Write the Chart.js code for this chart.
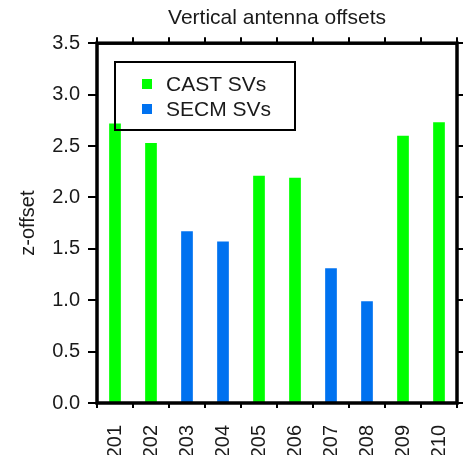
<!DOCTYPE html>
<html>
<head>
<meta charset="utf-8">
<title>Vertical antenna offsets</title>
<script src="https://cdn.jsdelivr.net/npm/chart.js@4"></script>
<style>
  html, body { margin: 0; padding: 0; background: #fff; }
  #wrap { width: 464px; height: 455px; }
</style>
</head>
<body>
<div id="wrap"><canvas id="offsets-chart" width="464" height="455"></canvas></div>
<script>
// Satellite numbers and their vertical offsets, split by satellite family
const svns = ['201', '202', '203', '204', '205', '206', '207', '208', '209', '210'];
const castOffsets = [2.72, 2.53, null, null, 2.21, 2.19, null, null, 2.60, 2.73];
const secmOffsets = [null, null, 1.67, 1.57, null, null, 1.31, 0.99, null, null];
const yTicks = [0, 0.5, 1.0, 1.5, 2.0, 2.5, 3.0, 3.5];

const textColor = '#1a1a1a';
const fontFamily = '"Liberation Sans", Arial, Helvetica, sans-serif';

// Box legend drawn inside the plot, top-left
const boxLegend = {
    id: 'boxLegend',
    afterDraw(chart) {
        const ctx = chart.ctx;
        ctx.save();
        ctx.lineWidth = 2;
        ctx.strokeStyle = '#000';
        ctx.strokeRect(115, 62, 180, 68);
        ctx.font = '21px ' + fontFamily;
        ctx.textBaseline = 'middle';
        chart.data.datasets.forEach((ds, i) => {
            const y = 84 + i * 25;
            ctx.fillStyle = ds.backgroundColor;
            ctx.fillRect(142, y - 5, 10, 10);
            ctx.fillStyle = textColor;
            ctx.fillText(ds.label, 166, y + 1);
        });
        ctx.restore();
    }
};

// Thick frame around the plotting area
const plotFrame = {
    id: 'plotFrame',
    afterDatasetsDraw(chart) {
        const a = chart.chartArea;
        const ctx = chart.ctx;
        ctx.save();
        ctx.lineWidth = 3.5;
        ctx.strokeStyle = '#000';
        ctx.strokeRect(a.left, a.top, a.right - a.left, a.bottom - a.top);
        ctx.restore();
    }
};

const tickGrid = (len) => ({
    offset: true,
    drawOnChartArea: false,
    drawTicks: true,
    tickLength: len,
    color: '#000',
    lineWidth: 2
});

const yTickGrid = (len) => ({
    drawOnChartArea: false,
    drawTicks: true,
    tickLength: len,
    color: '#000',
    lineWidth: 2
});

new Chart(document.getElementById('offsets-chart'), {
    type: 'bar',
    data: {
        labels: svns,
        datasets: [{
            label: 'CAST SVs',
            data: castOffsets,
            backgroundColor: '#00ff00'
        }, {
            label: 'SECM SVs',
            data: secmOffsets,
            backgroundColor: '#0072f0'
        }]
    },
    options: {
        responsive: false,
        animation: false,
        grouped: false,
        categoryPercentage: 1,
        barPercentage: 0.325,
        layout: { padding: 0 },
        plugins: {
            legend: { display: false },
            tooltip: { enabled: false },
            title: {
                display: true,
                text: 'Vertical antenna offsets',
                fullSize: false,
                color: textColor,
                font: { family: fontFamily, size: 21, weight: 'normal' },
                padding: { top: 6, bottom: 6 }
            }
        },
        scales: {
            x: {
                type: 'category',
                position: 'bottom',
                offset: true,
                grid: tickGrid(5),
                border: { display: false },
                ticks: {
                    minRotation: 90,
                    maxRotation: 90,
                    padding: 17,
                    color: textColor,
                    font: { family: fontFamily, size: 20 }
                },
                afterFit(scale) {
                    scale.height = 52;
                    scale.paddingLeft = 0;
                    scale.paddingRight = 0;
                }
            },
            x2: {
                type: 'category',
                position: 'top',
                offset: true,
                grid: tickGrid(6),
                border: { display: false },
                ticks: { display: false },
                afterFit(scale) { scale.height = 6; }
            },
            y: {
                position: 'left',
                min: 0,
                max: 3.5,
                afterBuildTicks(scale) { scale.ticks = yTicks.map(v => ({ value: v })); },
                grid: yTickGrid(9),
                border: { display: false },
                ticks: {
                    padding: 8,
                    color: textColor,
                    font: { family: fontFamily, size: 20 },
                    callback: (v) => Number(v).toFixed(1)
                },
                title: {
                    display: true,
                    text: 'z-offset',
                    color: textColor,
                    font: { family: fontFamily, size: 20 },
                    padding: { top: 16, bottom: 0 }
                },
                afterFit(scale) { scale.width = 97; }
            },
            y2: {
                position: 'right',
                min: 0,
                max: 3.5,
                afterBuildTicks(scale) { scale.ticks = yTicks.map(v => ({ value: v })); },
                grid: yTickGrid(6),
                border: { display: false },
                ticks: { display: false },
                afterFit(scale) { scale.width = 7; }
            }
        }
    },
    plugins: [plotFrame, boxLegend]
});
</script>
</body>
</html>
